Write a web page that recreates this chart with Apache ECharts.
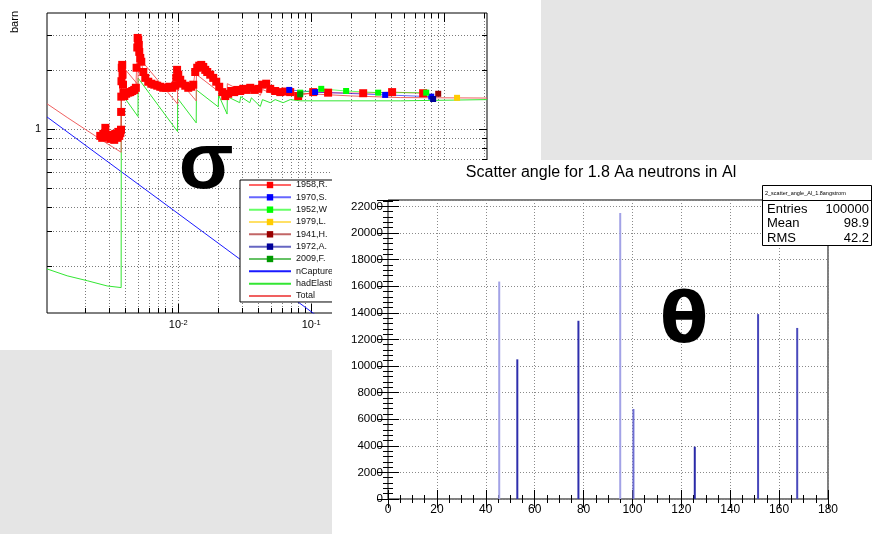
<!DOCTYPE html>
<html><head><meta charset="utf-8">
<script src="https://cdn.jsdelivr.net/npm/echarts@6/dist/echarts.min.js"></script>
<style>html,body{margin:0;padding:0;background:#e5e5e5}#c{width:872px;height:534px}</style>
</head><body><div id="c"></div>
<script>
// ===== Left chart: cross sections (barn) vs neutron energy =====
const data1958R = [[2.59e-3,0.921],[2.68e-3,0.900],[2.73e-3,0.943],[2.83e-3,1.012],[2.88e-3,0.910],[2.98e-3,0.932],[3.08e-3,0.889],[3.19e-3,0.921],[3.30e-3,0.879],[3.36e-3,0.943],[3.48e-3,0.900],[3.54e-3,0.965],[3.60e-3,0.921],[3.67e-3,0.954],[3.71e-3,0.99],
[3.72e-3,1.22],[3.73e-3,1.46],[3.74e-3,1.75],[3.76e-3,2.05],[3.79e-3,2.12],[3.81e-3,1.89],[3.84e-3,1.68],[3.87e-3,1.53],[3.93e-3,1.47],[4.06e-3,1.51],[4.21e-3,1.53],[4.36e-3,1.54],[4.51e-3,1.56],[4.67e-3,1.58],[4.80e-3,1.62],
[4.86e-3,2.05],[4.92e-3,2.60],[4.95e-3,2.91],[5.00e-3,2.84],[5.05e-3,2.68],[5.09e-3,2.47],[5.18e-3,2.30],[5.27e-3,2.20],[5.46e-3,1.95],[5.65e-3,1.82],[5.95e-3,1.74],[6.27e-3,1.70],[6.60e-3,1.68],[6.95e-3,1.66],[7.32e-3,1.64],[7.71e-3,1.62],[8.13e-3,1.62],[8.56e-3,1.64],[9.01e-3,1.62],[9.49e-3,1.66],
[9.66e-3,1.82],[9.80e-3,2.00],[1.00e-2,1.89],[1.035e-2,1.78],[1.072e-2,1.70],[1.129e-2,1.66],[1.189e-2,1.62],[1.252e-2,1.64],[1.297e-2,1.68],
[1.342e-2,1.95],[1.389e-2,2.05],[1.438e-2,2.10],[1.489e-2,2.12],[1.542e-2,2.07],[1.596e-2,2.00],[1.652e-2,1.95],[1.740e-2,1.89],[1.833e-2,1.82],[1.931e-2,1.74],[2.033e-2,1.64],[2.142e-2,1.54],[2.256e-2,1.47],[2.376e-2,1.51],[2.503e-2,1.56],[2.636e-2,1.54],[2.777e-2,1.58],[2.925e-2,1.56],[3.081e-2,1.60],[3.245e-2,1.58],[3.478e-2,1.62],[3.727e-2,1.58],[3.995e-2,1.60],[4.281e-2,1.68],[4.588e-2,1.70],[4.918e-2,1.60],[5.36e-2,1.56],[5.85e-2,1.54],[6.37e-2,1.55],[6.95e-2,1.54],[7.98e-2,1.47],[0.1035,1.54],[0.134,1.53],[0.246,1.52],[0.406,1.54],[0.695,1.52]];
const data1970S = [[0.0684,1.58],[0.107,1.54],[0.36,1.49],[0.80,1.46]];
const data1952W = [[0.0826,1.53],[0.119,1.60],[0.183,1.56],[0.319,1.53],[0.733,1.53]];
const data1979L = [[1.25,1.44]];
const data1941H = [[0.902,1.51]];
const data1972A = [[0.826,1.42]];
const data2009F = [[0.0826,1.50]];
const nCapture = [[1.03e-3,1.15],[2.1,0.0255]];
const hadElastic = [[1.03e-3,0.193],[1.46e-3,0.178],[2.07e-3,0.168],[2.92e-3,0.158],[3.72e-3,0.155],
[3.73e-3,1.52],[4.98e-3,1.156],[4.99e-3,1.815],[9.88e-3,0.969],[9.9e-3,1.43],[1.365e-2,1.073],[1.37e-2,1.58],[2.0e-2,1.295],[2.01e-2,1.49],[2.33e-2,1.19],
[2.34e-2,1.46],[2.90e-2,1.36],[2.95e-2,1.46],[3.45e-2,1.36],[3.55e-2,1.44],[4.14e-2,1.30],[4.30e-2,1.41],[4.92e-2,1.36],[5.36e-2,1.41],[6.15e-2,1.36],[6.95e-2,1.41],[8.26e-2,1.39],[0.197,1.39],[0.467,1.39],[2.1,1.41]];
const totalXS = [[1.03e-3,1.343],[1.46e-3,1.144],[2.07e-3,0.979],[2.92e-3,0.841],[3.72e-3,0.760],
[3.73e-3,2.124],[4.98e-3,1.679],[4.99e-3,2.337],[9.88e-3,1.340],[9.9e-3,1.800],[1.365e-2,1.389],[1.37e-2,1.895],[2.0e-2,1.556],[2.01e-2,1.750],[2.33e-2,1.432],
[2.34e-2,1.701],[2.90e-2,1.577],[2.95e-2,1.675],[3.45e-2,1.559],[3.55e-2,1.636],[4.14e-2,1.481],[4.30e-2,1.588],[4.92e-2,1.526],[5.36e-2,1.569],[6.15e-2,1.509],[6.95e-2,1.550],[8.26e-2,1.518],[0.197,1.473],[0.467,1.444],[2.1,1.436]];
const xMajorTicks = [1e-2, 1e-1, 1];
const xMinorTicks = [2e-3,3e-3,4e-3,5e-3,6e-3,7e-3,8e-3,9e-3,2e-2,3e-2,4e-2,5e-2,6e-2,7e-2,8e-2,9e-2,0.2,0.3,0.4,0.5,0.6,0.7,0.8,0.9,2];
const yMajorTicks = [1];
const yMinorTicks = [0.2,0.3,0.4,0.5,0.6,0.7,0.8,0.9,2,3];
const xRangeL = [1.03e-3, 2.1];
const yRangeL = [0.115, 3.9];
const legendNames = ['1958,R.','1970,S.','1952,W','1979,L.','1941,H.','1972,A.','2009,F.','nCapture','hadElastic','Total'];

// ===== Right chart: scatter angle histogram =====
const angles = [45.5, 52.9, 77.9, 95.0, 100.4, 125.5, 151.4, 167.4];
const counts = [16350, 10500, 13400, 21500, 6770, 3930, 13900, 12860];
const histName = '2_scatter_angle_Al_1.8angstrom';
const statEntries = '100000', statMean = '98.9', statRMS = '42.2';
const histTitle = 'Scatter angle for 1.8 Aa neutrons in Al';
const xRangeR = [0, 180];
const yRangeR = [0, 22480];

// ----- styles (not data) -----
const spikeColors = ['#a2a2e6','#2e2eac','#2e2eac','#a2a2e6','#6e6ed2','#2a2aa8','#4646ba','#4a4abc'];
const FONT = 'Liberation Sans';

function vGrid(tick) {
  return function (params, api) {
    const b = api.coord([api.value(0), yRangeL[0]]);
    const t = api.coord([api.value(0), yRangeL[1]]);
    const x = Math.round(b[0]) + 0.5;
    return {type:'group', children:[
      {type:'line', shape:{x1:x,y1:b[1],x2:x,y2:t[1]}, style:{stroke:'#7a7a7a',lineWidth:1,lineDash:[1,2]}},
      {type:'line', shape:{x1:x,y1:b[1],x2:x,y2:b[1]-tick}, style:{stroke:'#000',lineWidth:1}},
      {type:'line', shape:{x1:x,y1:t[1],x2:x,y2:t[1]+tick}, style:{stroke:'#000',lineWidth:1}}
    ]};
  };
}
function hGrid(tick) {
  return function (params, api) {
    const l = api.coord([xRangeL[0], api.value(1)]);
    const r = api.coord([xRangeL[1], api.value(1)]);
    const y = Math.round(l[1]) + 0.5;
    return {type:'group', children:[
      {type:'line', shape:{x1:l[0],y1:y,x2:r[0],y2:y}, style:{stroke:'#7a7a7a',lineWidth:1,lineDash:[1,2]}},
      {type:'line', shape:{x1:l[0],y1:y,x2:l[0]+tick,y2:y}, style:{stroke:'#000',lineWidth:1}},
      {type:'line', shape:{x1:r[0],y1:y,x2:r[0]-tick,y2:y}, style:{stroke:'#000',lineWidth:1}}
    ]};
  };
}
function dataSeries(name, data, color, size) {
  return {name, type:'line', xAxisIndex:0, yAxisIndex:0, data, symbol:'rect', symbolSize:size,
    showAllSymbol:true, itemStyle:{color}, lineStyle:{color, width:1, opacity:0.6}, z:3, animation:false};
}
function modelSeries(name, data, color) {
  return {name, type:'line', xAxisIndex:0, yAxisIndex:0, data, symbol:'none', lineStyle:{color, width:1}, itemStyle:{color}, z:2, animation:false};
}

const chart = echarts.init(document.getElementById('c'));
chart.setOption({
  animation:false,
  backgroundColor:'#e5e5e5',
  textStyle:{fontFamily:FONT},
  grid:[
    {left:47, top:13, width:440, height:300, show:true, borderColor:'#000', borderWidth:1, backgroundColor:'transparent', z:1},
    {left:388, top:200, width:440, height:299, show:true, borderColor:'#000', borderWidth:1, backgroundColor:'transparent', z:21}
  ],
  xAxis:[
    {type:'log', gridIndex:0, min:xRangeL[0], max:xRangeL[1], axisLine:{show:false}, axisTick:{show:false}, splitLine:{show:false},
      axisLabel:{showMinLabel:false, showMaxLabel:false, margin:6, color:'#000', fontSize:11,
        formatter:v => '10{s|' + Math.round(Math.log10(v)) + '}',
        rich:{s:{fontSize:7.5, verticalAlign:'top', lineHeight:8, padding:[0,0,6,0]}}}},
    {type:'value', gridIndex:1, min:xRangeR[0], max:xRangeR[1], interval:20, z:22,
      axisLine:{show:false}, axisTick:{inside:true, length:9, lineStyle:{color:'#000'}},
      minorTick:{show:true, splitNumber:4, length:4, lineStyle:{color:'#000'}},
      splitLine:{show:true, lineStyle:{color:'#8a8a8a', type:[1,2]}},
      axisLabel:{color:'#000', fontSize:12, margin:5, formatter:v => String(v)}},
    {type:'value', gridIndex:1, position:'top', min:xRangeR[0], max:xRangeR[1], interval:20, z:22,
      axisLine:{show:false}, axisTick:{inside:true, length:9, lineStyle:{color:'#000'}},
      minorTick:{show:true, splitNumber:4, length:4, lineStyle:{color:'#000'}},
      splitLine:{show:false}, axisLabel:{show:false}}
  ],
  yAxis:[
    {type:'log', gridIndex:0, min:yRangeL[0], max:yRangeL[1], axisLine:{show:false}, axisTick:{show:false}, splitLine:{show:false},
      axisLabel:{showMinLabel:false, showMaxLabel:false, margin:6, color:'#000', fontSize:11}},
    {type:'value', gridIndex:1, min:yRangeR[0], max:yRangeR[1], interval:2000, z:22,
      axisLine:{show:false}, axisTick:{inside:true, length:11, lineStyle:{color:'#000'}},
      minorTick:{show:true, splitNumber:5, length:5, lineStyle:{color:'#000'}},
      splitLine:{show:true, lineStyle:{color:'#8a8a8a', type:[1,2]}},
      axisLabel:{color:'#000', fontSize:11.5, margin:5, showMaxLabel:false, formatter:v => String(v)}},
    {type:'value', gridIndex:1, position:'right', min:yRangeR[0], max:yRangeR[1], interval:2000, z:22,
      axisLine:{show:false}, axisTick:{inside:true, length:11, lineStyle:{color:'#000'}},
      minorTick:{show:true, splitNumber:5, length:5, lineStyle:{color:'#000'}},
      splitLine:{show:false}, axisLabel:{show:false}}
  ],
  legend:{
    left:240, top:180, orient:'vertical', z:4,
    backgroundColor:'#fff', borderColor:'#000', borderWidth:1, borderRadius:0,
    padding:[0,4,1,8], itemWidth:42, itemHeight:8, itemGap:2.33,
    textStyle:{fontSize:9, lineHeight:10, color:'#111', fontFamily:FONT},
    data: legendNames.map((n,i) => i >= 7 ? {name:n, itemStyle:{opacity:0}} : {name:n})
  },
  graphic:{elements:[
    {type:'rect', shape:{x:0,y:0,width:541,height:350}, style:{fill:'#fff'}, z:-10, silent:true},
    {type:'text', x:15, y:22, rotation:Math.PI/2, style:{text:'barn', fontSize:11, fontFamily:FONT, fill:'#000', align:'center', verticalAlign:'middle'}, z:5},
    {type:'text', x:206, y:166, style:{text:'σ', fontSize:80, fontWeight:'bold', fontFamily:FONT, fill:'#000', align:'center', verticalAlign:'middle'}, z:5},
    {type:'rect', shape:{x:332,y:160,width:540,height:374}, style:{fill:'#fff'}, z:20, silent:true},
    {type:'text', x:601, y:173, style:{text:histTitle, fontSize:16, fontFamily:FONT, fill:'#000', align:'center', verticalAlign:'middle'}, z:24},
    {type:'rect', shape:{x:762.5,y:185.5,width:109,height:60}, style:{fill:'#fff', stroke:'#000', lineWidth:1}, z:24},
    {type:'line', shape:{x1:762.5,y1:200.5,x2:871.5,y2:200.5}, style:{stroke:'#000', lineWidth:1}, z:24},
    {type:'text', x:765, y:193, style:{text:histName, fontSize:5.5, fontFamily:FONT, fill:'#000', align:'left', verticalAlign:'middle'}, z:25},
    {type:'text', x:767, y:209, style:{text:'Entries', fontSize:13, fontFamily:FONT, fill:'#000', align:'left', verticalAlign:'middle'}, z:25},
    {type:'text', x:869, y:209, style:{text:statEntries, fontSize:13, fontFamily:FONT, fill:'#000', align:'right', verticalAlign:'middle'}, z:25},
    {type:'text', x:767, y:223.5, style:{text:'Mean', fontSize:13, fontFamily:FONT, fill:'#000', align:'left', verticalAlign:'middle'}, z:25},
    {type:'text', x:869, y:223.5, style:{text:statMean, fontSize:13, fontFamily:FONT, fill:'#000', align:'right', verticalAlign:'middle'}, z:25},
    {type:'text', x:767, y:238, style:{text:'RMS', fontSize:13, fontFamily:FONT, fill:'#000', align:'left', verticalAlign:'middle'}, z:25},
    {type:'text', x:869, y:238, style:{text:statRMS, fontSize:13, fontFamily:FONT, fill:'#000', align:'right', verticalAlign:'middle'}, z:25},
    {type:'text', x:684, y:324, style:{text:'θ', fontSize:70, fontWeight:'bold', fontFamily:'DejaVu Sans', fill:'#000', align:'center', verticalAlign:'middle'}, z:26}
  ]},
  series:[
    {type:'custom', name:'xgridMinor', xAxisIndex:0, yAxisIndex:0, data:xMinorTicks.map(v=>[v,1]), renderItem:vGrid(5), silent:true, z:1, clip:false},
    {type:'custom', name:'xgridMajor', xAxisIndex:0, yAxisIndex:0, data:xMajorTicks.map(v=>[v,1]), renderItem:vGrid(9), silent:true, z:1, clip:false},
    {type:'custom', name:'ygridMinor', xAxisIndex:0, yAxisIndex:0, data:yMinorTicks.map(v=>[1e-2,v]), renderItem:hGrid(5), silent:true, z:1, clip:false},
    {type:'custom', name:'ygridMajor', xAxisIndex:0, yAxisIndex:0, data:yMajorTicks.map(v=>[1e-2,v]), renderItem:hGrid(8), silent:true, z:1, clip:false},
    modelSeries('nCapture', nCapture, '#1a1aff'),
    modelSeries('hadElastic', hadElastic, '#33e633'),
    modelSeries('Total', totalXS, '#f06060'),
    dataSeries('1958,R.', data1958R, '#ff0000', 8),
    dataSeries('1970,S.', data1970S, '#0000ff', 6),
    dataSeries('1952,W', data1952W, '#00ff00', 6),
    dataSeries('1979,L.', data1979L, '#ffcc00', 6),
    dataSeries('1941,H.', data1941H, '#990000', 6),
    dataSeries('1972,A.', data1972A, '#000099', 6),
    dataSeries('2009,F.', data2009F, '#009900', 6),
    {type:'bar', name:'scatter angle', xAxisIndex:1, yAxisIndex:1, barWidth:2, z:23,
      data: angles.map((a,i) => [a, counts[i]]),
      itemStyle:{color: p => spikeColors[p.dataIndex]}}
  ]
});
</script></body></html>
